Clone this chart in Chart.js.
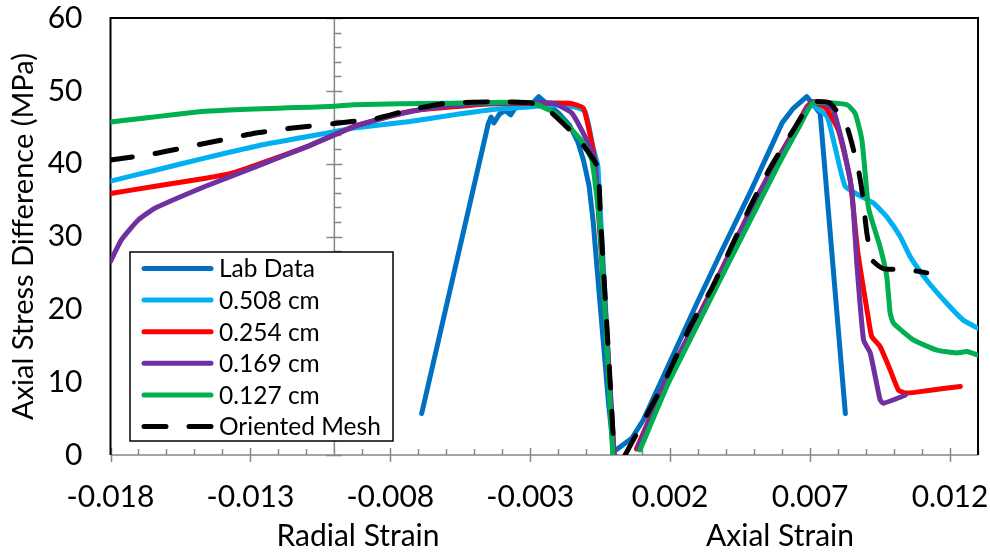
<!DOCTYPE html>
<html>
<head>
<meta charset="utf-8">
<script src="https://cdn.jsdelivr.net/npm/chart.js@4/dist/chart.umd.min.js"></script>
<style>
  html, body { margin: 0; padding: 0; background: #fff; }
  canvas { display: block; }
</style>
</head>
<body>
<canvas id="chart" width="990" height="552"></canvas>
<script>
// Données (déformation, contrainte MPa)
const seriesNames = ['Lab Data', '0.508 cm', '0.254 cm', '0.169 cm', '0.127 cm', 'Oriented Mesh'];
const seriesColors = ['#0070C0', '#00B0F0', '#FF0000', '#7030A0', '#00B050', '#000000'];

const xTickValues = [-0.018, -0.013, -0.008, -0.003, 0.002, 0.007, 0.012];
const radialAxisAt = -0.010;

const labRadial = [[-0.00688, 5.7], [-0.0045, 45.5], [-0.0044, 46.4], [-0.0043, 45.6], [-0.0041, 46.8],
    [-0.0039, 47.3], [-0.0037, 46.7], [-0.0035, 47.9], [-0.0032, 48.2], [-0.0030, 48.0], [-0.0027, 49.2],
    [-0.0024, 48.2], [-0.0020, 47.0], [-0.0016, 45.3], [-0.0013, 43.0], [-0.0011, 40.5], [-0.0009, 37.0],
    [-0.00075, 32.0], [-0.0006, 25.0], [-0.0004, 16.0], [-0.0002, 7.0], [-0.00002, 0.5]];
const labAxial = [[0.0001, 0.8], [0.00063, 2.3], [0.00104, 4.8], [0.00295, 20.8], [0.0038, 27.7],
    [0.0049, 36.4], [0.0060, 45.6], [0.0064, 47.6], [0.00688, 49.2], [0.00736, 46.9], [0.00826, 5.7]];

const cm508Radial = [[-0.018, 37.6], [-0.0164, 39.1], [-0.0146, 40.8], [-0.0128, 42.4], [-0.0110, 43.7],
    [-0.0100, 44.4], [-0.0093, 44.9], [-0.0073, 45.8], [-0.00575, 46.7], [-0.0044, 47.4], [-0.0030, 47.8],
    [-0.0018, 48.1], [-0.00105, 47.2], [-0.00076, 42.3], [-0.00058, 39.6], [-0.00004, 0]];
const cm508Axial = [[0.0008, 0.8], [0.0019, 10.2], [0.0035, 22.5], [0.0049, 33.6], [0.0057, 39.4],
    [0.0064, 44.2], [0.0070, 48.1], [0.0076, 46.5], [0.00789, 42.3], [0.00825, 36.9], [0.00873, 35.7],
    [0.00926, 34.6], [0.00974, 32.7], [0.01022, 30.0], [0.01058, 27.2], [0.01117, 24.0], [0.01189, 20.8],
    [0.01248, 18.5], [0.0130, 17.4]];

const cm254Radial = [[-0.018, 35.9], [-0.0164, 36.9], [-0.0146, 38.0], [-0.01366, 38.7], [-0.0128, 39.8],
    [-0.0110, 42.3], [-0.0093, 45.1], [-0.0073, 47.2], [-0.00575, 47.8], [-0.0045, 48.2], [-0.0016, 48.3],
    [-0.0011, 47.6], [-0.0007, 40.5], [0, 0]];
const cm254Axial = [[0.0008, 0.9], [0.00188, 10.4], [0.0035, 22.8], [0.0049, 33.9], [0.0057, 39.7],
    [0.0064, 44.4], [0.0069, 47.9], [0.0071, 48.5], [0.00757, 47.6], [0.00801, 44.6], [0.00843, 37.8],
    [0.0087, 28.0], [0.00905, 19.5], [0.0092, 16.3], [0.0095, 14.9], [0.00986, 11.7], [0.01016, 8.9],
    [0.01046, 8.5], [0.0113, 8.9], [0.01237, 9.4]];

const cm169Radial = [[-0.018, 26.6], [-0.0176, 29.6], [-0.0170, 32.3], [-0.0164, 33.9], [-0.0146, 36.9],
    [-0.0128, 39.6], [-0.0110, 42.3], [-0.0093, 45.1], [-0.0078, 46.7], [-0.0066, 47.6], [-0.0050, 48.2],
    [-0.0022, 48.3], [-0.0015, 46.9], [-0.0007, 40.5], [0, 0]];
const cm169Axial = [[0.00086, 1.1], [0.00188, 10.3], [0.0035, 22.6], [0.0049, 33.8], [0.0057, 39.6],
    [0.0064, 44.3], [0.0069, 47.7], [0.00712, 48.5], [0.0076, 48.1], [0.00783, 47.4], [0.00819, 42.3],
    [0.00849, 36.4], [0.00867, 26.3], [0.00891, 15.8], [0.00915, 14.0], [0.0095, 7.6], [0.00962, 7.1],
    [0.0104, 8.2]];

const cm127Radial = [[-0.018, 45.7], [-0.0146, 47.2], [-0.0100, 47.9], [-0.0093, 48.1], [-0.0060, 48.3],
    [-0.0030, 48.4], [-0.0021, 46.9], [-0.0012, 43.3], [-0.0008, 40.5], [-0.0005, 30.9], [-0.00005, 0]];
const cm127Axial = [[0.00092, 0.7], [0.00199, 10.3], [0.00581, 39.4], [0.0066, 45.0], [0.0071, 48.3],
    [0.00831, 48.1], [0.00861, 46.9], [0.00885, 43.3], [0.00908, 34.1], [0.0092, 32.3], [0.0095, 28.6],
    [0.00974, 24.5], [0.00986, 19.5], [0.00998, 18.1], [0.01069, 15.8], [0.01153, 14.4], [0.01224, 14.0],
    [0.0126, 14.2], [0.0130, 13.7]];

const meshRadial = [[-0.018, 40.5], [-0.0164, 41.4], [-0.0146, 42.8], [-0.0128, 44.2], [-0.0115, 44.9],
    [-0.0100, 45.5], [-0.0085, 46.2], [-0.0073, 47.4], [-0.0060, 48.3], [-0.0042, 48.5], [-0.0029, 48.3],
    [-0.0023, 47.2], [-0.0013, 43.5], [-0.0006, 39.6], [-0.0005, 33.2], [-0.00015, 10.3], [0, 0]];
const meshAxial = [[0.00039, 0], [0.00146, 7.6], [0.00188, 10.75], [0.00271, 17.6], [0.00349, 22.9],
    [0.00414, 28.2], [0.00486, 34.1], [0.00557, 39.4], [0.0064, 44.6], [0.00688, 47.6], [0.00712, 48.5],
    [0.00772, 48.3], [0.00831, 45.1], [0.00849, 42.8], [0.00873, 39.1], [0.00885, 36.4], [0.00897, 32.3],
    [0.00903, 30.4], [0.00921, 26.8], [0.00962, 25.6], [0.01058, 25.4], [0.01117, 25.0]];

const seriesParts = [
    [labRadial, labAxial],
    [cm508Radial, cm508Axial],
    [cm254Radial, cm254Axial],
    [cm169Radial, cm169Axial],
    [cm127Radial, cm127Axial],
    [meshRadial, meshAxial]
];

const FONT = 'Lato, "Open Sans", sans-serif';

// Construit les points : partie radiale, coupure, partie axiale
function buildPoints(parts, joined) {
    const pts = parts[0].map(p => ({ x: p[0], y: p[1] }));
    if (!joined) pts.push({ x: 0, y: null });
    return pts.concat(parts[1].map(p => ({ x: p[0], y: p[1] })));
}

const datasets = seriesNames.map((name, i) => ({
    label: name,
    data: buildPoints(seriesParts[i], i === 0),
    borderColor: seriesColors[i],
    backgroundColor: seriesColors[i],
    borderWidth: 5,
    borderDash: i === 5 ? [22, 23] : [],
    borderCapStyle: 'round',
    borderJoinStyle: 'round',
    showLine: true,
    spanGaps: false,
    pointRadius: 0,
    tension: i === 0 ? 0 : 0.15,
    order: seriesNames.length - i
}));

// Axes, bordure et ticks façon Excel
const axesPlugin = {
    id: 'excelAxes',
    beforeDatasetsDraw(chart) {
        const ctx = chart.ctx;
        const xs = chart.scales.x, ys = chart.scales.y;
        const area = chart.chartArea;
        const y0 = ys.getPixelForValue(0);
        const xr = xs.getPixelForValue(radialAxisAt);
        ctx.save();
        ctx.strokeStyle = '#868686';
        ctx.lineWidth = 1.5;
        ctx.beginPath();
        // axe horizontal
        ctx.moveTo(area.left, y0); ctx.lineTo(area.right, y0);
        for (let i = 0; i <= 31; i++) {
            const v = -0.018 + i * 0.001;
            const px = Math.round(xs.getPixelForValue(v)) + 0.5;
            const major = xTickValues.some(t => Math.abs(t - v) < 1e-9);
            ctx.moveTo(px, y0 - (major ? 7 : 6));
            ctx.lineTo(px, y0 + (major ? 7 : 0));
        }
        // axe vertical à -0.010
        ctx.moveTo(xr, ys.getPixelForValue(0)); ctx.lineTo(xr, ys.getPixelForValue(60));
        for (let v = 0; v <= 60; v += 2) {
            const py = Math.round(ys.getPixelForValue(v)) + 0.5;
            const major = v % 10 === 0;
            ctx.moveTo(xr - (major ? 8 : 0), py);
            ctx.lineTo(xr + (major ? 8 : 7), py);
        }
        ctx.stroke();
        // bordure de la zone de tracé
        ctx.strokeStyle = '#000';
        ctx.lineWidth = 2;
        ctx.beginPath();
        ctx.moveTo(area.left, y0);
        ctx.lineTo(area.left, area.top);
        ctx.lineTo(area.right, area.top);
        ctx.lineTo(area.right, y0);
        ctx.stroke();
        ctx.restore();
    },
    afterDraw(chart) {
        const ctx = chart.ctx;
        ctx.save();
        // titres de l'axe X
        ctx.fillStyle = '#000';
        ctx.font = '30px ' + FONT;
        ctx.textAlign = 'center';
        ctx.textBaseline = 'middle';
        ctx.fillText('Radial Strain', 358, 536);
        ctx.fillText('Axial Strain', 780, 536);

        // légende
        const box = { left: 130, top: 252, right: 393, bottom: 441 };
        ctx.fillStyle = '#fff';
        ctx.fillRect(box.left, box.top, box.right - box.left, box.bottom - box.top);
        ctx.strokeStyle = '#000';
        ctx.lineWidth = 1.5;
        ctx.strokeRect(box.left, box.top, box.right - box.left, box.bottom - box.top);
        ctx.font = '24.5px ' + FONT;
        ctx.textAlign = 'left';
        chart.data.datasets.forEach((ds, i) => {
            const y = 268.5 + i * 31.6;
            ctx.strokeStyle = ds.borderColor;
            ctx.lineWidth = 5;
            ctx.lineCap = 'round';
            ctx.setLineDash(ds.borderDash);
            ctx.beginPath();
            ctx.moveTo(144, y);
            ctx.lineTo(211, y);
            ctx.stroke();
            ctx.setLineDash([]);
            ctx.fillStyle = '#000';
            ctx.fillText(ds.label, 219, y + 1);
        });
        ctx.restore();
    }
};

const ctx = document.getElementById('chart').getContext('2d');
const chart = new Chart(ctx, {
    type: 'scatter',
    data: { datasets: datasets },
    options: {
        responsive: false,
        animation: false,
        devicePixelRatio: 1,
        layout: { padding: { left: 6, top: 18, right: 12, bottom: 0 } },
        plugins: {
            legend: { display: false },
            tooltip: { enabled: false }
        },
        scales: {
            x: {
                type: 'linear',
                min: -0.018,
                max: 0.013,
                grid: { display: false, drawTicks: false },
                border: { display: false },
                afterBuildTicks: scale => { scale.ticks = xTickValues.map(v => ({ value: v })); },
                afterFit: scale => {
                    scale.height = 97;
                    scale.paddingLeft = 0;
                    scale.paddingRight = 0;
                },
                ticks: {
                    autoSkip: false,
                    maxRotation: 0,
                    padding: 24,
                    color: '#000',
                    font: { family: FONT, size: 30 },
                    callback: v => v.toFixed(3)
                }
            },
            y: {
                min: 0,
                max: 60,
                grid: { display: false, drawTicks: false },
                border: { display: false },
                afterFit: scale => {
                    scale.width = 104.5;
                    scale.paddingTop = 0;
                    scale.paddingBottom = 0;
                },
                ticks: {
                    stepSize: 10,
                    padding: 28,
                    color: '#000',
                    font: { family: FONT, size: 30 }
                },
                title: {
                    display: true,
                    text: 'Axial Stress Difference (MPa)',
                    color: '#000',
                    font: { family: FONT, size: 29 },
                    padding: { top: 0, bottom: 0 }
                }
            }
        }
    },
    plugins: [axesPlugin]
});
</script>
</body>
</html>
